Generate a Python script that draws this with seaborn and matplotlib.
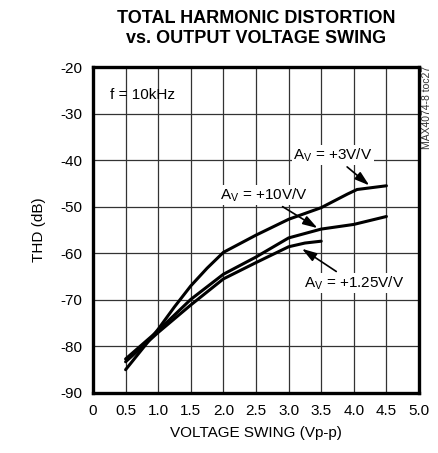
import pandas as pd
import numpy as np
import matplotlib
matplotlib.use("Agg")
import matplotlib.pyplot as plt
import seaborn as sns

# curves (Vp-p, dB)
swing_3 = [0.5, 1.0, 1.25, 1.5, 1.75, 2.0, 2.5, 3.0, 3.5, 3.9, 4.05, 4.5]
thd_3 = [-85.0, -76.3, -71.5, -67.0, -63.2, -59.8, -56.1, -52.7, -50.2, -47.3, -46.3, -45.5]

swing_10 = [0.5, 1.0, 1.5, 2.0, 2.5, 3.0, 3.5, 4.0, 4.5]
thd_10 = [-82.7, -76.6, -69.9, -64.5, -60.8, -56.7, -54.8, -53.8, -52.1]

swing_125 = [0.5, 1.0, 1.5, 2.0, 2.5, 3.0, 3.25, 3.5]
thd_125 = [-83.3, -77.0, -71.1, -65.5, -62.0, -58.6, -57.8, -57.4]

gain_labels = ["+3V/V", "+10V/V", "+1.25V/V"]

x_ticks = [0, 0.5, 1.0, 1.5, 2.0, 2.5, 3.0, 3.5, 4.0, 4.5, 5.0]
x_tick_labels = ["0", "0.5", "1.0", "1.5", "2.0", "2.5", "3.0", "3.5", "4.0", "4.5", "5.0"]
y_ticks = [-20, -30, -40, -50, -60, -70, -80, -90]

df = pd.concat([
    pd.DataFrame({"swing": swing_3, "thd": thd_3, "gain": gain_labels[0]}),
    pd.DataFrame({"swing": swing_10, "thd": thd_10, "gain": gain_labels[1]}),
    pd.DataFrame({"swing": swing_125, "thd": thd_125, "gain": gain_labels[2]}),
])

sns.set_style("white")
plt.rcParams["font.family"] = ["Liberation Sans", "DejaVu Sans"]
plt.rcParams["axes.unicode_minus"] = False
plt.rcParams["text.color"] = "black"
plt.rcParams["axes.labelcolor"] = "black"
plt.rcParams["mathtext.fontset"] = "custom"
plt.rcParams["mathtext.rm"] = "Liberation Sans"
plt.rcParams["mathtext.it"] = "Liberation Sans"

fig = plt.figure(figsize=(4.38, 4.53), dpi=100)
ax = fig.add_axes([0.2123, 0.1325, 0.7443, 0.7195])

sns.lineplot(data=df, x="swing", y="thd", hue="gain", units="gain",
             estimator=None, sort=False, palette=["black"] * 3,
             linewidth=2.2, legend=False, ax=ax)

ax.set_xlim(0, 5.0)
ax.set_ylim(-90, -20)
ax.set_xticks(x_ticks)
ax.set_xticklabels(x_tick_labels)
ax.set_yticks(y_ticks)
ax.grid(True, color="#333333", linewidth=0.9)
ax.tick_params(length=0, labelsize=11, pad=8, colors="black")
for s in ax.spines.values():
    s.set_linewidth(2.4)
    s.set_color("black")

ax.set_xlabel("VOLTAGE SWING (Vp-p)", fontsize=11, labelpad=6)
ax.set_ylabel("THD (dB)", fontsize=11, labelpad=10)

fig.text(0.585, 0.978, "TOTAL HARMONIC DISTORTION\nvs. OUTPUT VOLTAGE SWING",
         ha="center", va="top", fontsize=13, fontweight="bold", linespacing=1.2)

ax.text(0.26, -26, "f = 10kHz", fontsize=11, va="center", ha="left")

box = dict(facecolor="white", edgecolor="none", pad=1.0)
arrow = dict(arrowstyle="-|>,head_length=0.8,head_width=0.25", color="black", lw=1.2)

ax.annotate("A$_\\mathrm{V}$ = " + gain_labels[0], xy=(4.27, -45.8), xytext=(3.68, -38.9),
            fontsize=11, ha="center", va="center", bbox=box, arrowprops=arrow)
ax.annotate("A$_\\mathrm{V}$ = " + gain_labels[1], xy=(3.48, -54.9), xytext=(2.62, -47.5),
            fontsize=11, ha="center", va="center", bbox=box, arrowprops=arrow)
ax.annotate("A$_\\mathrm{V}$ = " + gain_labels[2], xy=(3.17, -58.7), xytext=(4.0, -66.4),
            fontsize=11, ha="center", va="center", bbox=box, arrowprops=arrow)

fig.text(0.976, 0.855, "MAX4074-8 toc27", rotation=90, fontsize=7.5,
         ha="center", va="top", color="#333333")

fig.savefig("out.png", dpi=100)
